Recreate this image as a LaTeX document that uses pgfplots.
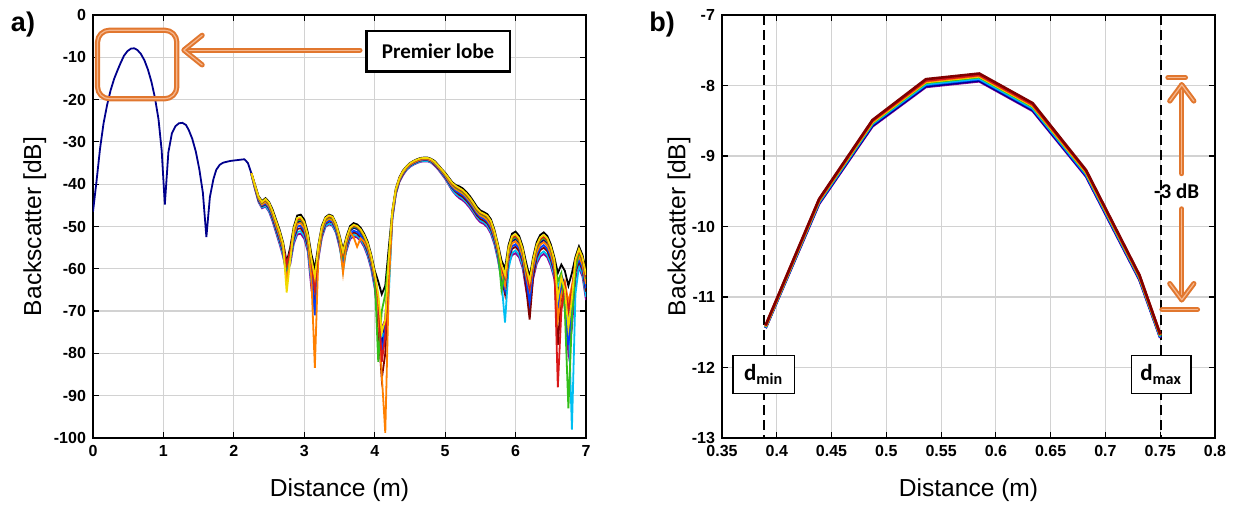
\documentclass[border=0pt]{standalone}
\usepackage{fontspec}
\setmainfont{Liberation Sans}
\newfontfamily\calibri{Carlito}
\usepackage{pgfplots}
\usepackage{pgfplotstable}
\pgfplotsset{compat=1.18}

\definecolor{cNavy}{rgb}{0,0,0.55}
\definecolor{cBlack}{rgb}{0,0,0}
\definecolor{cBlue}{rgb}{0,0.25,1}
\definecolor{cCyan}{rgb}{0,0.75,0.95}
\definecolor{cGreen}{rgb}{0.2,0.75,0.1}
\definecolor{cYellow}{rgb}{0.95,0.85,0}
\definecolor{cOrange}{rgb}{1,0.5,0}
\definecolor{cRed}{rgb}{0.85,0.1,0.1}
\definecolor{cDRed}{rgb}{0.5,0,0}
\definecolor{cPurple}{rgb}{0.55,0,0.6}
\definecolor{annOr}{RGB}{237,125,49}

\pgfplotstableread{
x y
0.00 -46.5
0.05 -39.3
0.10 -31.6
0.15 -25.6
0.20 -21.3
0.25 -17.8
0.30 -15.1
0.35 -13.0
0.39 -11.42
0.44 -9.62
0.49 -8.52
0.54 -7.95
0.585 -7.87
0.63 -8.27
0.68 -9.2
0.73 -10.7
0.78 -12.9
0.83 -15.8
0.88 -19.6
0.93 -24.6
0.975 -32.0
1.02 -44.8
1.07 -32.5
1.12 -28.0
1.17 -26.3
1.22 -25.6
1.27 -25.5
1.32 -26.0
1.36 -27.2
1.41 -29.3
1.46 -32.3
1.51 -36.5
1.56 -42.0
1.61 -52.5
1.66 -43.0
1.71 -38.8
1.75 -36.6
1.80 -35.4
1.85 -34.9
1.90 -34.7
1.95 -34.5
2.00 -34.4
2.05 -34.3
2.10 -34.2
2.15 -34.1
2.20 -35.0
2.25 -37.5
2.30 -40.5
2.35 -43.3
2.40 -44.6
2.45 -44.0
2.50 -45.0
2.55 -47.0
2.60 -49.5
2.65 -52.0
2.70 -55.0
2.75 -60.0
2.80 -56.5
2.85 -51.5
2.90 -49.0
2.95 -48.8
3.00 -50.0
3.05 -53.0
3.10 -59.0
3.15 -68.0
3.20 -55.5
3.25 -50.8
3.30 -48.6
3.35 -48.0
3.40 -48.3
3.45 -50.0
3.50 -53.0
3.55 -58.0
3.60 -53.5
3.65 -51.0
3.70 -50.3
3.75 -50.6
3.80 -51.4
3.85 -52.8
3.90 -54.8
3.95 -57.8
4.00 -62.0
4.05 -68.0
4.10 -78.0
4.15 -72.0
4.20 -58.0
4.25 -47.0
4.30 -41.5
4.35 -38.8
4.40 -37.2
4.45 -36.1
4.50 -35.3
4.55 -34.8
4.60 -34.4
4.65 -34.1
4.70 -34.0
4.75 -34.0
4.80 -34.3
4.85 -34.9
4.90 -35.8
4.95 -36.8
5.00 -37.8
5.05 -39.0
5.10 -40.2
5.15 -41.0
5.20 -41.5
5.25 -42.0
5.30 -42.8
5.35 -43.8
5.40 -45.0
5.45 -46.3
5.50 -47.2
5.55 -47.6
5.60 -48.2
5.65 -49.5
5.70 -52.0
5.75 -55.5
5.80 -60.0
5.85 -63.0
5.90 -56.0
5.95 -53.5
6.00 -53.0
6.05 -54.0
6.10 -56.5
6.15 -61.0
6.20 -66.0
6.25 -59.0
6.30 -55.5
6.35 -53.8
6.40 -53.2
6.45 -54.0
6.50 -56.0
6.55 -59.0
6.60 -66.0
6.65 -61.5
6.70 -64.0
6.75 -72.0
6.80 -66.0
6.85 -59.0
6.90 -56.5
6.95 -58.5
7.00 -63.0
}\baseA

\pgfplotstableread{
x s1 s2 s3 s4 s5 s6 s7 s8 s9
2.25 -37.4 -37.6 -37.7 -37.5 -37.4 -37.5 -37.4 -37.6 -37.8
2.30 -40.1 -40.7 -41.0 -40.4 -40.3 -40.6 -40.3 -40.9 -41.2
2.35 -42.8 -43.6 -44.0 -43.2 -43.0 -43.4 -43.1 -43.8 -44.2
2.40 -44.0 -45.0 -45.5 -44.4 -44.2 -44.8 -44.3 -45.2 -45.7
2.45 -43.3 -44.5 -45.1 -43.8 -43.5 -44.2 -43.7 -44.7 -45.3
2.50 -44.2 -45.6 -46.3 -44.8 -44.4 -45.2 -44.6 -45.8 -46.5
2.55 -46.0 -47.6 -48.4 -46.8 -46.4 -47.2 -46.6 -48.0 -48.8
2.60 -48.4 -50.2 -51.1 -49.2 -48.8 -49.8 -49.0 -50.6 -51.5
2.65 -50.8 -52.8 -53.8 -51.7 -51.2 -52.3 -51.5 -53.2 -54.2
2.70 -53.8 -55.8 -56.8 -54.7 -54.2 -55.3 -54.5 -56.2 -57.2
2.75 -58.5 -61.0 -62.0 -59.5 -65.6 -63.0 -59.0 -61.5 -60.5
2.80 -55.0 -57.5 -58.5 -56.0 -58.0 -57.0 -55.8 -58.0 -59.0
2.85 -50.1 -52.5 -53.7 -51.1 -50.5 -51.9 -50.9 -52.9 -54.1
2.90 -47.4 -50.0 -51.3 -48.6 -48.0 -49.4 -48.3 -50.6 -51.9
2.95 -47.2 -49.8 -51.1 -48.4 -47.8 -49.2 -48.1 -50.4 -51.7
3.00 -48.4 -51.0 -52.3 -49.6 -49.0 -50.4 -49.3 -51.6 -52.9
3.05 -51.4 -54.0 -55.3 -52.6 -52.0 -53.4 -52.3 -54.6 -55.9
3.10 -56.5 -60.5 -63.0 -58.5 -57.5 -62.0 -58.0 -61.0 -64.5
3.15 -60.0 -71.0 -66.0 -64.0 -62.0 -83.4 -65.0 -70.0 -62.5
3.20 -54.3 -56.3 -57.3 -55.2 -54.7 -57.0 -55.0 -56.7 -57.7
3.25 -49.8 -51.4 -52.2 -50.6 -50.2 -51.0 -50.4 -51.8 -52.6
3.30 -47.8 -49.2 -49.9 -48.4 -48.0 -48.8 -48.2 -49.4 -50.1
3.35 -47.2 -48.6 -49.3 -47.8 -47.4 -48.2 -47.6 -48.8 -49.5
3.40 -47.5 -48.9 -49.6 -48.1 -47.7 -48.5 -47.9 -49.1 -49.8
3.45 -49.2 -50.6 -51.3 -49.8 -49.4 -50.2 -49.6 -50.8 -51.5
3.50 -52.0 -53.6 -54.4 -52.8 -52.4 -53.2 -52.6 -54.0 -54.8
3.55 -55.5 -59.0 -60.5 -57.0 -56.0 -61.0 -56.5 -59.5 -58.5
3.60 -52.3 -54.3 -55.3 -53.2 -52.7 -53.8 -53.0 -54.7 -55.7
3.65 -49.9 -51.7 -52.6 -50.7 -50.3 -51.3 -50.5 -52.1 -53.0
3.70 -49.2 -51.0 -51.9 -50.0 -49.6 -52.5 -49.8 -51.4 -52.3
3.75 -49.5 -51.3 -52.2 -50.3 -49.9 -54.8 -50.1 -51.7 -52.6
3.80 -50.3 -52.1 -53.0 -51.1 -50.7 -52.8 -50.9 -52.5 -53.4
3.85 -51.7 -53.5 -54.4 -52.5 -52.1 -53.6 -52.3 -53.9 -54.8
3.90 -53.6 -55.6 -56.6 -54.5 -54.0 -55.1 -54.3 -56.0 -57.0
3.95 -56.6 -58.6 -59.6 -57.5 -57.0 -58.1 -57.3 -59.0 -60.0
4.00 -60.4 -63.0 -64.2 -61.6 -61.0 -62.4 -61.4 -63.4 -64.6
4.05 -63.0 -70.0 -72.0 -82.0 -66.0 -70.0 -67.0 -74.0 -71.0
4.10 -66.0 -80.0 -76.0 -70.0 -75.0 -85.0 -82.0 -86.0 -74.0
4.15 -64.0 -74.0 -75.0 -66.0 -72.0 -98.8 -76.0 -80.0 -72.0
4.20 -55.0 -60.0 -66.0 -57.0 -57.5 -64.0 -58.5 -61.0 -63.0
4.25 -46.3 -47.5 -48.1 -46.8 -46.5 -47.2 -46.7 -47.7 -48.3
4.30 -41.0 -41.8 -42.2 -41.4 -41.2 -41.6 -41.3 -42.0 -42.4
4.35 -38.4 -39.0 -39.3 -38.7 -38.6 -38.9 -38.6 -39.2 -39.5
4.40 -36.8 -37.4 -37.7 -37.1 -37.0 -37.3 -37.0 -37.6 -37.9
4.45 -35.8 -36.3 -36.6 -36.0 -35.9 -36.2 -36.0 -36.4 -36.7
4.50 -35.0 -35.5 -35.8 -35.2 -35.1 -35.4 -35.2 -35.6 -35.9
4.55 -34.5 -35.0 -35.3 -34.7 -34.6 -34.9 -34.7 -35.1 -35.4
4.60 -34.1 -34.6 -34.9 -34.3 -34.2 -34.5 -34.3 -34.7 -35.0
4.65 -33.8 -34.3 -34.6 -34.0 -33.9 -34.2 -34.0 -34.4 -34.7
4.70 -33.7 -34.2 -34.5 -33.9 -33.8 -34.1 -33.9 -34.3 -34.6
4.75 -33.7 -34.2 -34.5 -33.9 -33.8 -34.1 -33.9 -34.3 -34.6
4.80 -34.0 -34.5 -34.8 -34.2 -34.1 -34.4 -34.2 -34.6 -34.9
4.85 -34.5 -35.1 -35.4 -34.8 -34.7 -35.0 -34.7 -35.3 -35.6
4.90 -35.4 -36.0 -36.3 -35.7 -35.6 -35.9 -35.6 -36.2 -36.5
4.95 -36.4 -37.1 -37.4 -36.7 -36.5 -36.9 -36.6 -37.2 -37.6
5.00 -37.3 -38.1 -38.5 -37.7 -37.5 -37.9 -37.6 -38.3 -38.7
5.05 -38.4 -39.4 -39.9 -38.8 -38.6 -39.2 -38.7 -39.6 -40.1
5.10 -39.5 -40.7 -41.3 -40.0 -39.7 -40.4 -39.9 -40.9 -41.5
5.15 -40.2 -41.6 -42.3 -40.8 -40.4 -41.2 -40.6 -41.8 -42.5
5.20 -40.5 -42.1 -42.9 -41.3 -40.9 -41.7 -41.1 -42.5 -43.3
5.25 -41.0 -42.6 -43.4 -41.8 -41.4 -42.2 -41.6 -43.0 -43.8
5.30 -41.8 -43.4 -44.2 -42.6 -42.2 -43.0 -42.4 -43.8 -44.6
5.35 -42.8 -44.4 -45.2 -43.6 -43.2 -44.0 -43.4 -44.8 -45.6
5.40 -44.0 -45.6 -46.4 -44.8 -44.4 -45.2 -44.6 -46.0 -46.8
5.45 -45.3 -46.9 -47.7 -46.1 -45.7 -46.5 -45.9 -47.3 -48.1
5.50 -46.2 -47.8 -48.6 -47.0 -46.6 -47.4 -46.8 -48.2 -49.0
5.55 -46.6 -48.2 -49.0 -47.4 -47.0 -47.8 -47.2 -48.6 -49.4
5.60 -47.1 -48.9 -49.8 -47.9 -47.5 -48.5 -47.7 -49.3 -50.2
5.65 -48.3 -50.3 -51.3 -49.2 -48.7 -49.8 -49.0 -50.7 -51.7
5.70 -50.8 -52.8 -53.8 -51.7 -51.2 -52.3 -51.5 -53.2 -54.2
5.75 -54.2 -56.4 -57.5 -55.2 -54.6 -55.8 -54.9 -56.8 -57.9
5.80 -58.0 -61.5 -63.0 -65.0 -59.0 -61.0 -59.5 -62.0 -62.5
5.85 -60.0 -65.0 -72.7 -61.0 -61.5 -64.0 -62.0 -66.0 -64.0
5.90 -54.4 -57.0 -60.0 -55.6 -55.0 -56.4 -55.3 -57.6 -58.9
5.95 -51.7 -54.7 -56.2 -53.0 -52.3 -54.0 -52.7 -55.3 -56.8
6.00 -51.2 -54.2 -55.7 -52.5 -51.8 -53.5 -52.2 -54.8 -56.3
6.05 -52.2 -55.2 -56.7 -53.5 -52.8 -54.5 -53.2 -55.8 -57.3
6.10 -54.7 -57.7 -59.2 -56.0 -55.3 -57.0 -55.7 -58.3 -59.8
6.15 -58.5 -62.5 -64.0 -60.5 -59.5 -61.5 -60.0 -64.5 -65.0
6.20 -62.0 -68.0 -66.5 -64.0 -63.0 -65.0 -64.5 -72.0 -69.0
6.25 -57.2 -60.2 -61.7 -58.5 -57.8 -59.5 -58.2 -61.8 -62.3
6.30 -53.7 -56.7 -58.2 -55.0 -54.3 -56.0 -54.7 -57.3 -58.8
6.35 -52.0 -55.0 -56.5 -53.3 -52.6 -54.3 -53.0 -55.6 -57.1
6.40 -51.4 -54.4 -55.9 -52.7 -52.0 -53.7 -52.4 -55.0 -56.5
6.45 -52.2 -55.2 -56.7 -53.5 -52.8 -54.5 -53.2 -55.8 -57.3
6.50 -54.2 -57.2 -58.7 -55.5 -54.8 -56.5 -55.2 -57.8 -59.3
6.55 -57.2 -60.2 -61.7 -58.5 -57.8 -59.5 -58.2 -60.8 -62.3
6.60 -61.0 -70.0 -64.0 -63.0 -67.0 -72.0 -88.0 -78.0 -68.0
6.65 -59.0 -63.0 -62.5 -61.0 -62.0 -66.0 -70.0 -66.0 -64.0
6.70 -60.5 -66.0 -64.5 -70.0 -65.0 -63.0 -64.0 -67.0 -69.0
6.75 -64.0 -78.0 -70.0 -93.0 -74.0 -68.0 -70.0 -76.0 -80.0
6.80 -61.0 -70.0 -98.0 -72.0 -67.0 -64.0 -65.0 -70.0 -74.0
6.85 -57.2 -60.2 -66.0 -60.0 -57.8 -59.5 -58.2 -60.8 -62.3
6.90 -54.7 -57.7 -59.2 -56.0 -55.3 -57.0 -55.7 -58.3 -59.8
6.95 -56.7 -59.7 -61.2 -58.0 -57.3 -59.0 -57.7 -60.3 -61.8
7.00 -60.6 -64.6 -66.6 -62.4 -61.4 -63.6 -62.0 -65.4 -67.4
}\varA

\pgfplotstableread{
x dr r o y g c b n p
0.3898 -11.40 -11.41 -11.41 -11.42 -11.42 -11.43 -11.43 -11.44 -11.44
0.4386 -9.61 -9.62 -9.63 -9.63 -9.64 -9.65 -9.66 -9.67 -9.68
0.4873 -8.49 -8.50 -8.51 -8.52 -8.53 -8.54 -8.55 -8.57 -8.58
0.5361 -7.91 -7.93 -7.94 -7.95 -7.96 -7.98 -7.99 -8.01 -8.02
0.5848 -7.83 -7.85 -7.86 -7.87 -7.88 -7.90 -7.91 -7.93 -7.94
0.6336 -8.25 -8.27 -8.28 -8.29 -8.30 -8.32 -8.33 -8.35 -8.36
0.6823 -9.20 -9.21 -9.22 -9.23 -9.24 -9.25 -9.27 -9.28 -9.29
0.7311 -10.69 -10.70 -10.71 -10.71 -10.72 -10.73 -10.74 -10.75 -10.76
0.7500 -11.53 -11.53 -11.54 -11.54 -11.55 -11.56 -11.57 -11.57 -11.58
}\tabB

\tikzset{
  orst/.style={draw=annOr!95!black, line width=1pt, double=annOr!55, double distance=0.6pt, line cap=round, line join=round},
}
\pgfplotsset{
  mstyle/.style={
    scale only axis, width=246.5pt, height=211.5pt, anchor=south west,
    axis line style={line width=0.9pt},
    tick align=inside, tick pos=both,
    major tick length=3pt,
    tick style={black, line width=0.6pt},
    grid=major, grid style={gray!35, line width=0.6pt},
    /pgf/number format/assume math mode=true,
    ticklabel style={font=\bfseries\fontsize{8}{9}\selectfont},
    label style={font=\fontsize{12.3}{14}\selectfont},
    xlabel={Distance (m)}, ylabel={Backscatter [dB]},
    xlabel style={at={(axis description cs:0.5,-0.123)}, anchor=center},
  },
}

\begin{document}
\begin{tikzpicture}
\useasboundingbox (0,0) rectangle (621.5pt,254pt);
\node[font=\bfseries\fontsize{13.5}{15}\selectfont] at (11.5pt,241.5pt) {a)};
\node[font=\bfseries\fontsize{13.5}{15}\selectfont] at (331pt,241.5pt) {b)};

\begin{axis}[mstyle, at={(46.5pt,35pt)},
  xmin=0, xmax=7, ymin=-100, ymax=0,
  xtick={0,1,2,3,4,5,6,7}, ytick={-100,-90,-80,-70,-60,-50,-40,-30,-20,-10,0},
  ylabel style={at={(axis description cs:-0.118,0.5)}, anchor=center}]
\addplot[cNavy, line width=0.9pt] table[x=x,y=y]{\baseA};
\addplot[cBlack, line width=0.9pt] table[x=x,y=s1]{\varA};
\addplot[cPurple, line width=0.9pt] table[x=x,y=s9]{\varA};
\addplot[cCyan, line width=0.9pt] table[x=x,y=s3]{\varA};
\addplot[cDRed, line width=0.9pt] table[x=x,y=s8]{\varA};
\addplot[cBlue, line width=0.9pt] table[x=x,y=s2]{\varA};
\addplot[cOrange, line width=0.9pt] table[x=x,y=s6]{\varA};
\addplot[cGreen, line width=0.9pt] table[x=x,y=s4]{\varA};
\addplot[cRed, line width=0.9pt] table[x=x,y=s7]{\varA};
\addplot[cYellow, line width=0.9pt] table[x=x,y=s5]{\varA};
% annotations
\draw[orst, rounded corners=6pt] (axis cs:0.064,-3.6) rectangle (axis cs:1.19,-19.8);
\draw[orst] (axis cs:3.79,-8.3) -- (axis cs:1.31,-8.3);
\draw[orst] (axis cs:1.55,-4.8) -- (axis cs:1.29,-8.3) -- (axis cs:1.55,-11.8);
\draw[black, line width=1.3pt, fill=white] (axis cs:3.88,-3.75) rectangle (axis cs:5.92,-13.3);
\node[font=\calibri\bfseries\fontsize{10.5}{12}\selectfont] at (axis cs:4.9,-8.5) {Premier lobe};
\end{axis}

\begin{axis}[mstyle, at={(361pt,35pt)},
  xmin=0.35, xmax=0.8, ymin=-13, ymax=-7,
  xtick={0.35,0.4,0.45,0.5,0.55,0.6,0.65,0.7,0.75,0.8},
  ytick={-13,-12,-11,-10,-9,-8,-7},
  ylabel style={at={(axis description cs:-0.087,0.5)}, anchor=center}]
\draw[black, line width=1.1pt, dash pattern=on 5pt off 2.5pt] (axis cs:0.388,-7) -- (axis cs:0.388,-13);
\draw[black, line width=1.1pt, dash pattern=on 5pt off 2.5pt] (axis cs:0.7505,-7) -- (axis cs:0.7505,-13);
\addplot[cPurple, line width=1.3pt] table[x=x,y=p]{\tabB};
\addplot[cNavy, line width=1.3pt] table[x=x,y=n]{\tabB};
\addplot[cBlue, line width=1.3pt] table[x=x,y=b]{\tabB};
\addplot[cCyan, line width=1.3pt] table[x=x,y=c]{\tabB};
\addplot[cGreen, line width=1.3pt] table[x=x,y=g]{\tabB};
\addplot[cYellow, line width=1.3pt] table[x=x,y=y]{\tabB};
\addplot[cOrange, line width=1.3pt] table[x=x,y=o]{\tabB};
\addplot[cRed, line width=1.3pt] table[x=x,y=r]{\tabB};
\addplot[cDRed, line width=1.3pt] table[x=x,y=dr]{\tabB};
% d_min / d_max boxes
\draw[black, line width=0.6pt, fill=white] (axis cs:0.360,-11.83) rectangle (axis cs:0.416,-12.37);
\node[font=\calibri\bfseries\fontsize{11.5}{12}\selectfont] at (axis cs:0.388,-12.1) {d\textsubscript{min}};
\draw[black, line width=0.6pt, fill=white] (axis cs:0.7237,-11.83) rectangle (axis cs:0.778,-12.37);
\node[font=\calibri\bfseries\fontsize{11.5}{12}\selectfont] at (axis cs:0.7508,-12.1) {d\textsubscript{max}};
% -3 dB marker
\draw[orst] (axis cs:0.757,-7.89) -- (axis cs:0.773,-7.89);
\draw[orst] (axis cs:0.7697,-9.25) -- (axis cs:0.7697,-7.99);
\draw[orst] (axis cs:0.7587,-8.22) -- (axis cs:0.7697,-7.99) -- (axis cs:0.7807,-8.22);
\draw[orst] (axis cs:0.7697,-9.75) -- (axis cs:0.7697,-11.04);
\draw[orst] (axis cs:0.7587,-10.81) -- (axis cs:0.7697,-11.04) -- (axis cs:0.7807,-10.81);
\draw[orst] (axis cs:0.7516,-11.18) -- (axis cs:0.784,-11.18);
\node[font=\calibri\bfseries\fontsize{10.5}{12}\selectfont] at (axis cs:0.765,-9.5) {-3 dB};
\end{axis}
\end{tikzpicture}
\end{document}
